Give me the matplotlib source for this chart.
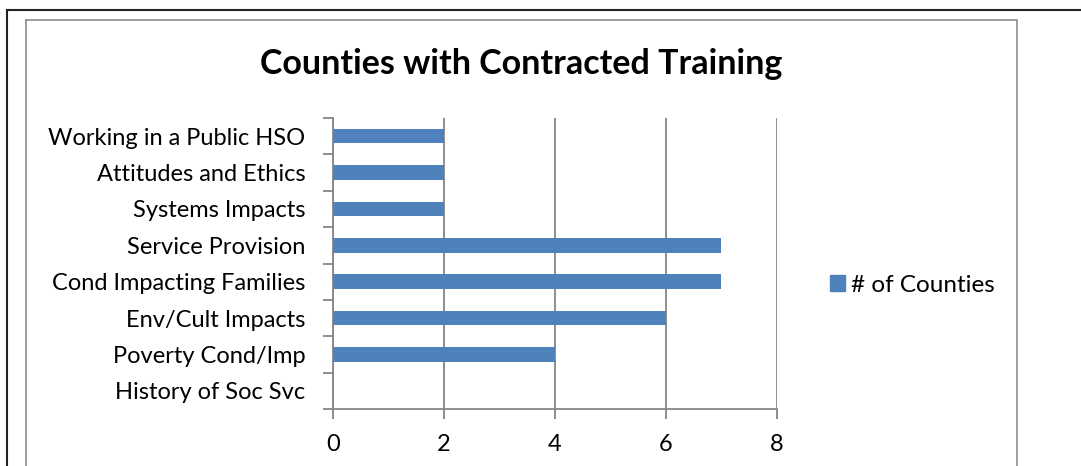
import matplotlib.pyplot as plt
from matplotlib.lines import Line2D
from matplotlib.patches import Patch

categories = ["Working in a Public HSO", "Attitudes and Ethics", "Systems Impacts",
              "Service Provision", "Cond Impacting Families", "Env/Cult Impacts",
              "Poverty Cond/Imp", "History of Soc Svc"]
counties = [2, 2, 2, 7, 7, 6, 4, 0]
x_ticks = [0, 2, 4, 6, 8]

W, H = 1081, 466
fig = plt.figure(figsize=(W / 100, H / 100), dpi=100)
plt.rcParams['font.family'] = ['Lato', 'DejaVu Sans']

# plot area in pixels: left 333, right 777, top 118, bottom 409
ax = fig.add_axes([333 / W, 1 - 409 / H, (777 - 333) / W, (409 - 118) / H])

bar_color = '#4F81BD'
grid_color = '#868686'
pos = list(range(len(categories)))[::-1]
ax.barh(pos, counties, height=0.4, color=bar_color, zorder=3)

ax.set_xlim(0, 8)
ax.set_ylim(-0.5, len(categories) - 0.5)
ax.set_xticks(x_ticks)
ax.set_xticklabels([str(t) for t in x_ticks], fontsize=17)
ax.set_yticks(pos)
ax.set_yticklabels(categories, fontsize=17)
ax.tick_params(axis='y', length=0, pad=20)
ax.tick_params(axis='x', length=7, width=1.3, color=grid_color, pad=11)
# category boundary ticks
ax.set_yticks([p - 0.5 for p in range(len(categories) + 1)], minor=True)
ax.tick_params(axis='y', which='minor', length=7, width=1.3, color=grid_color)

ax.grid(axis='x', color=grid_color, linewidth=1.3, zorder=0)
for s in ['top', 'right']:
    ax.spines[s].set_visible(False)
for s in ['left', 'bottom']:
    ax.spines[s].set_color(grid_color)
    ax.spines[s].set_linewidth(1.3)

fig.text(521 / W, 1 - 64 / H, "Counties with Contracted Training", ha='center', va='center',
         fontsize=24.5, fontweight='bold')

fig.legend(handles=[Patch(color=bar_color, label="# of Counties")],
           loc='center left', bbox_to_anchor=(808 / W, 1 - 285 / H), frameon=False,
           fontsize=17.5, handlelength=0.62, handleheight=0.62, handletextpad=0.25)

# outer and inner frames
def fl(x, y, **kw):
    fig.add_artist(Line2D([v / W for v in x], [1 - v / H for v in y], **kw))

fl([7, W], [9.5, 9.5], color='#222222', lw=1.5)
fl([7, 7], [9.5, H], color='#222222', lw=1.5)
fl([26, 1017, 1017], [20, 20, H], color='#8c8c8c', lw=1.2)
fl([26, 26], [20, H], color='#8c8c8c', lw=1.2)

fig.savefig("out.png", dpi=100)
